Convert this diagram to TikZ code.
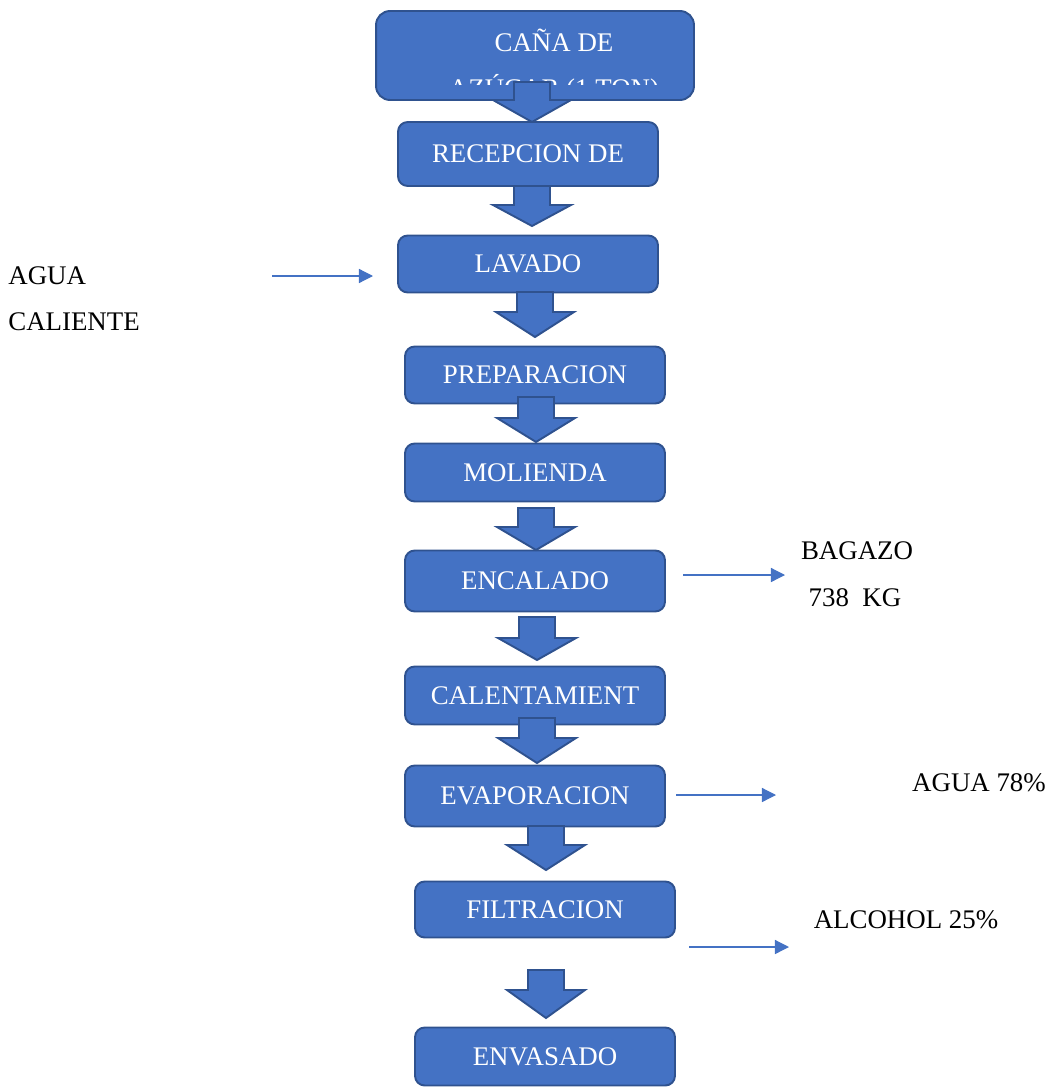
\documentclass[tikz,border=0pt]{standalone}
\usepackage{fontspec}
\setmainfont{Liberation Serif}
\usetikzlibrary{arrows.meta,positioning}
\definecolor{azul}{HTML}{4472C4}
\definecolor{borde}{HTML}{2F528F}
\tikzset{
    every node/.append style={font=\fontsize{15.3pt}{18pt}\selectfont},
    caja/.style={draw=borde, fill=azul, line width=1.1pt, rounded corners=5.5pt,
        text=white, minimum width=5.2cm, inner sep=0pt},
    bloque/.style={draw=borde, fill=azul, line width=1.1pt, line join=miter},
    flecha/.style={draw=azul, line width=0.7pt, -{Triangle[length=8pt,width=8pt]}},
    etiqueta/.style={text=black, inner sep=0pt}}
% x, top of shaft, base of head, tip
\newcommand{\flechabloque}[4]{%
    \draw[bloque] (#1-18,#2) -- (#1+18,#2) -- (#1+18,#3) -- (#1+39,#3)
        -- (#1,#4) -- (#1-39,#3) -- (#1-18,#3) -- cycle;}

\begin{document}
\begin{tikzpicture}[x=0.02cm, y=-0.02cm]
    \useasboundingbox (0,0) rectangle (1049,1088);

    % process boxes
    \node[caja, rounded corners=8pt, minimum width=6.36cm, minimum height=1.78cm] (cana) at (535,55.5) {};
    \node[etiqueta, text=white, anchor=base] (cana1) at (554,52) {CAÑA DE};
    \begin{scope}
        \clip (376,60) rectangle (694,85);
        \node[etiqueta, text=white, anchor=base] (cana2) at (554,97) {AZÚCAR (1 TON)};
    \end{scope}
    \node[caja, minimum height=1.28cm] (recepcion) at (528,154) {RECEPCION DE};
    \node[caja, minimum height=1.14cm] (lavado) at (528,264) {LAVADO};
    \node[caja, minimum height=1.14cm] (preparacion) at (535,375) {PREPARACION};
    \node[caja, minimum height=1.16cm] (molienda) at (535,472.5) {MOLIENDA};
    \node[caja, minimum height=1.22cm] (encalado) at (535,581) {ENCALADO};
    \node[caja, minimum height=1.16cm] (calentamiento) at (535,695.5) {CALENTAMIENT};
    \node[caja, minimum height=1.22cm] (evaporacion) at (535,796) {EVAPORACION};
    \node[caja, minimum height=1.12cm] (filtracion) at (545,909.5) {FILTRACION};
    \node[caja, minimum height=1.16cm] (envasado) at (545,1056.5) {ENVASADO};

    % block arrows between the steps
    \flechabloque{532}{82}{100}{122}
    \flechabloque{532}{186}{205}{226}
    \flechabloque{535}{292}{312}{337}
    \flechabloque{536}{397}{418}{442}
    \flechabloque{536}{508}{527}{550}
    \flechabloque{537}{617}{638}{660}
    \flechabloque{537}{718}{738}{763}
    \flechabloque{546}{826}{845}{870}
    \flechabloque{546}{970}{990}{1018}

    % inputs and outputs
    \node[etiqueta, anchor=base west] (agua) at (8,284) {AGUA};
    \node[etiqueta, anchor=base west] (caliente) at (8,330) {CALIENTE};
    \coordinate (entra1) at (272,276);
    \coordinate (entra2) at (373,276);
    \draw[flecha] (entra1) -- (entra2);

    \node[etiqueta, anchor=base] (bagazo) at (857,559) {BAGAZO};
    \node[etiqueta, anchor=base] (kg) at (855,606) {738\ \ KG};
    \coordinate (sale1) at (683,575);
    \coordinate (sale2) at (785,575);
    \draw[flecha] (sale1) -- (sale2);

    \node[etiqueta, anchor=base] (agua78) at (979,791) {AGUA 78\%};
    \coordinate (sale3) at (676,795);
    \coordinate (sale4) at (776,795);
    \draw[flecha] (sale3) -- (sale4);

    \node[etiqueta, anchor=base] (alcohol) at (906,928) {ALCOHOL 25\%};
    \coordinate (sale5) at (689,947);
    \coordinate (sale6) at (789,947);
    \draw[flecha] (sale5) -- (sale6);
\end{tikzpicture}
\end{document}
